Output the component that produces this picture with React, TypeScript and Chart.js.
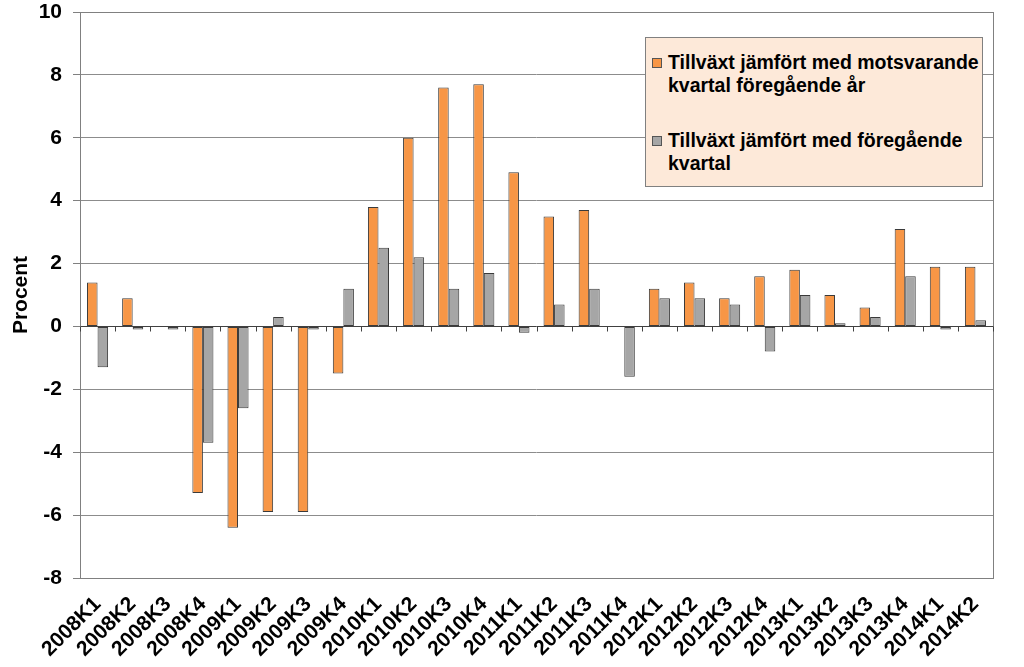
import React, { useEffect, useRef } from "react";
import { Chart, registerables } from "chart.js";

Chart.register(...registerables);

const categories = [
  "2008K1", "2008K2", "2008K3", "2008K4",
  "2009K1", "2009K2", "2009K3", "2009K4",
  "2010K1", "2010K2", "2010K3", "2010K4",
  "2011K1", "2011K2", "2011K3", "2011K4",
  "2012K1", "2012K2", "2012K3", "2012K4",
  "2013K1", "2013K2", "2013K3", "2013K4",
  "2014K1", "2014K2",
];

const yearOnYear = [
  1.4, 0.9, 0, -5.3,
  -6.4, -5.9, -5.9, -1.5,
  3.8, 6.0, 7.6, 7.7,
  4.9, 3.5, 3.7, 0,
  1.2, 1.4, 0.9, 1.6,
  1.8, 1.0, 0.6, 3.1,
  1.9, 1.9,
];

const quarterOnQuarter = [
  -1.3, -0.1, -0.1, -3.7,
  -2.6, 0.3, -0.1, 1.2,
  2.5, 2.2, 1.2, 1.7,
  -0.2, 0.7, 1.2, -1.6,
  0.9, 0.9, 0.7, -0.8,
  1.0, 0.1, 0.3, 1.6,
  -0.1, 0.2,
];

const seriesLabels = [
  ["Tillväxt jämfört med motsvarande", "kvartal föregående år"],
  ["Tillväxt jämfört med föregående", "kvartal"],
];

const yMin = -8;
const yMax = 10;
const yStep = 2;
const yTitle = "Procent";

const ORANGE = "#F79646";
const GRAY = "#A6A6A6";
const BAR_BORDER = "#3a3a3a";
const FONT = "'Liberation Sans', Arial, sans-serif";

const framePlugin = {
  id: "frame",
  afterDraw(chart: any) {
    const { ctx, chartArea, scales } = chart;
    const y0 = scales.y.getPixelForValue(0);
    ctx.save();
    ctx.strokeStyle = "#808080";
    ctx.lineWidth = 1;
    ctx.strokeRect(
      Math.round(chartArea.left) + 0.5,
      Math.round(chartArea.top) + 0.5,
      Math.round(chartArea.right - chartArea.left),
      Math.round(chartArea.bottom - chartArea.top)
    );
    ctx.strokeStyle = "#404040";
    const x = scales.x;
    const n = chart.data.labels.length;
    const step = x.getPixelForValue(1) - x.getPixelForValue(0);
    const yy = Math.round(y0) + 0.5;
    for (let i = 0; i <= n; i++) {
      const px = x.getPixelForValue(0) - step / 2 + i * step;
      const rx = Math.round(px) + 0.5;
      ctx.beginPath();
      ctx.moveTo(rx, yy);
      ctx.lineTo(rx, yy + 5);
      ctx.stroke();
    }
    ctx.restore();
  },
};

export default function App() {
  const canvasRef = useRef<HTMLCanvasElement | null>(null);

  useEffect(() => {
    document.body.style.margin = "0";
    const canvas = canvasRef.current;
    if (!canvas) return;
    const chart = new Chart(canvas, {
      type: "bar",
      data: {
        labels: categories,
        datasets: [
          {
            label: seriesLabels[0].join(" "),
            data: yearOnYear,
            backgroundColor: ORANGE,
            borderColor: BAR_BORDER,
            borderWidth: 1,
            borderSkipped: false,
          },
          {
            label: seriesLabels[1].join(" "),
            data: quarterOnQuarter,
            backgroundColor: GRAY,
            borderColor: BAR_BORDER,
            borderWidth: 1,
            borderSkipped: false,
          },
        ],
      },
      options: {
        responsive: false,
        animation: false,
        maintainAspectRatio: false,
        layout: { padding: { left: 0, right: 31, top: 12, bottom: 0 } },
        datasets: {
          bar: { categoryPercentage: 0.6, barPercentage: 1.0 },
        },
        plugins: {
          legend: { display: false },
          tooltip: { enabled: false },
        },
        scales: {
          x: {
            offset: true,
            grid: { display: false, drawTicks: false },
            border: { display: false },
            ticks: {
              autoSkip: false,
              maxRotation: 45,
              minRotation: 45,
              padding: 14,
              color: "#000",
              font: { family: FONT, size: 21, weight: "bold" },
            },
            afterFit(scale: any) {
              scale.height = 89;
              scale.paddingLeft = 0;
              scale.paddingRight = 0;
            },
          },
          y: {
            min: yMin,
            max: yMax,
            ticks: {
              stepSize: yStep,
              padding: 11,
              color: "#000",
              font: { family: FONT, size: 21, weight: "bold" },
            },
            grid: {
              color: (c: any) => (c.tick && c.tick.value === 0 ? "#404040" : "#8c8c8c"),
              tickColor: "#808080",
              tickLength: 7,
              lineWidth: 1,
            },
            border: { display: false },
            title: {
              display: true,
              text: yTitle,
              color: "#000",
              font: { family: FONT, size: 21, weight: "bold" },
              padding: { top: 9, bottom: 0 },
            },
            afterFit(scale: any) {
              scale.width = 80;
              scale.paddingTop = 0;
              scale.paddingBottom = 0;
            },
          },
        },
      },
      plugins: [framePlugin],
    } as any);
    return () => chart.destroy();
  }, []);

  const legendText: React.CSSProperties = {
    position: "absolute",
    left: 22,
    fontFamily: FONT,
    fontWeight: "bold",
    fontSize: 19.5,
    lineHeight: "23px",
    color: "#000",
    whiteSpace: "nowrap",
  };
  const marker = (color: string, top: number): React.CSSProperties => ({
    position: "absolute",
    left: 6,
    top,
    width: 8,
    height: 8,
    background: color,
    border: "1px solid #555",
  });

  return (
    <div style={{ position: "relative", width: 1024, height: 667, background: "#fff" }}>
      <canvas ref={canvasRef} width={1024} height={667} style={{ display: "block" }} />
      <div
        style={{
          position: "absolute",
          left: 645,
          top: 37,
          width: 336,
          height: 148,
          background: "#FDE9D9",
          border: "1px solid #808080",
        }}
      >
        <div style={marker(ORANGE, 20)} />
        <div style={{ ...legendText, top: 13 }}>
          {seriesLabels[0][0]}
          <br />
          {seriesLabels[0][1]}
        </div>
        <div style={marker(GRAY, 98)} />
        <div style={{ ...legendText, top: 91 }}>
          {seriesLabels[1][0]}
          <br />
          {seriesLabels[1][1]}
        </div>
      </div>
    </div>
  );
}
